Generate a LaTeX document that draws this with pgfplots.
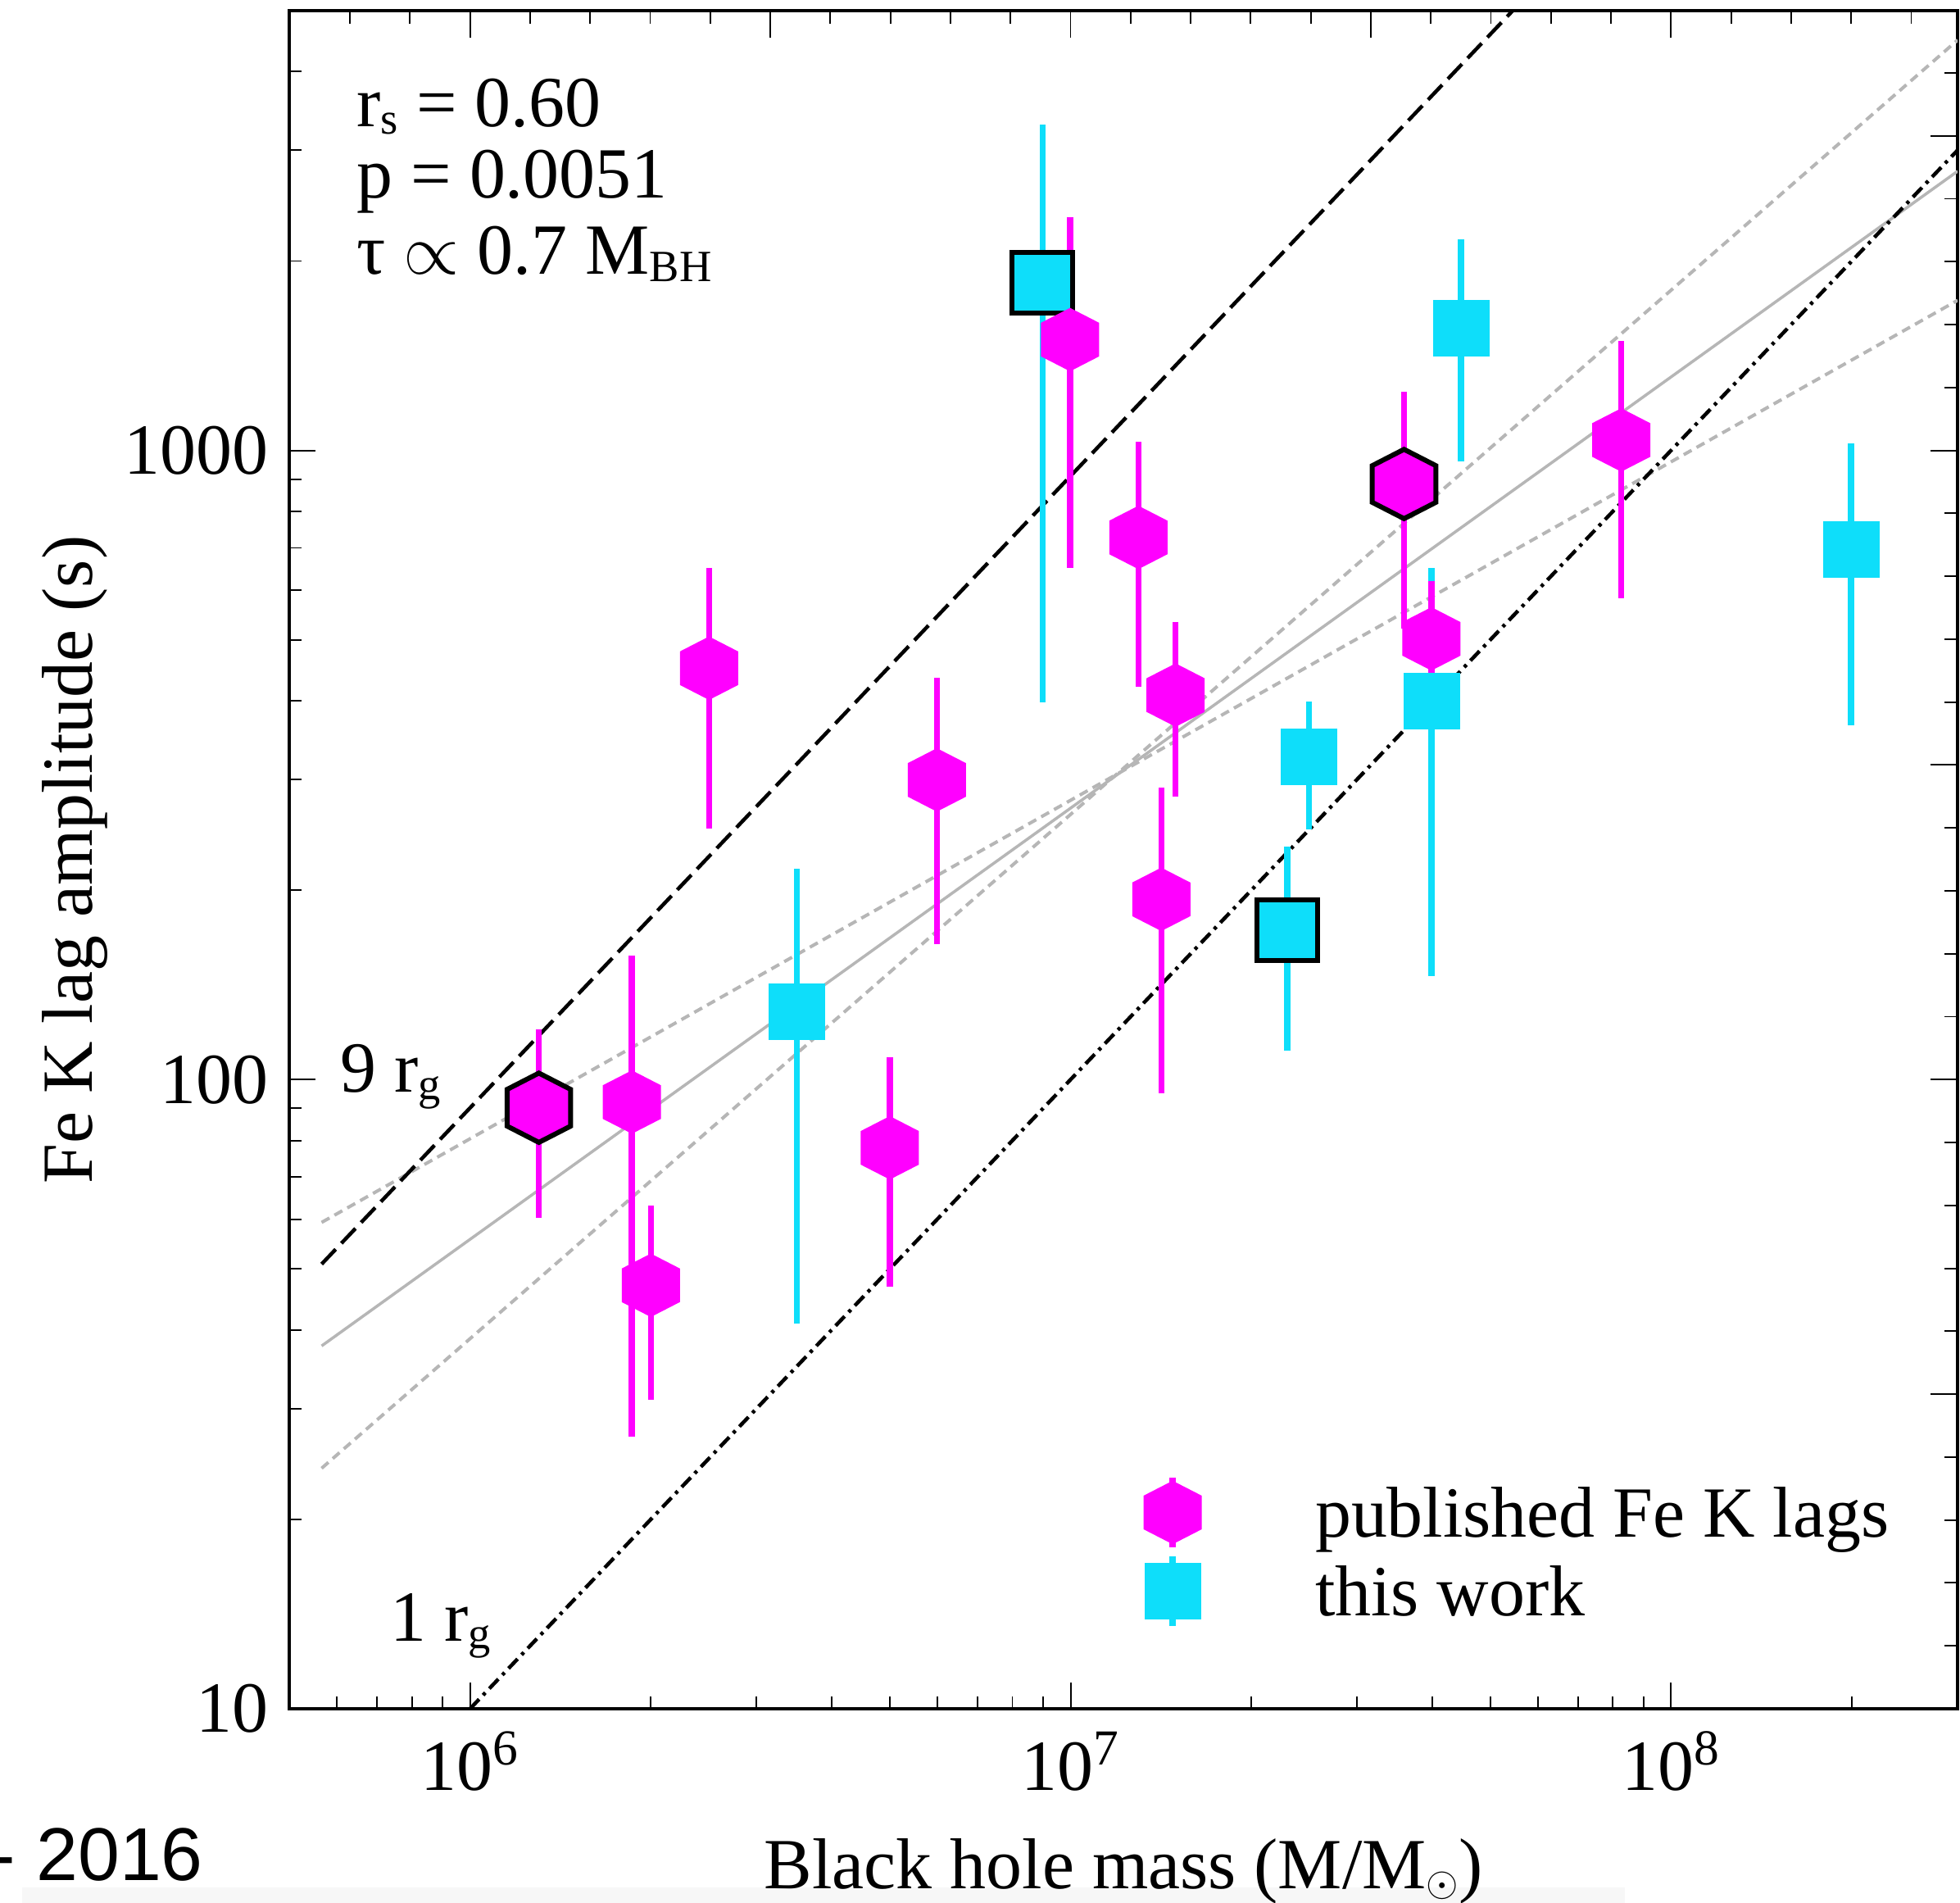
\documentclass[border=0pt]{standalone}
\usepackage{fontspec}
\setmainfont{Liberation Serif}
\newfontfamily\sansf{Liberation Sans}
\usepackage{pgfplots}
\usepackage{pgfplotstable}
\pgfplotsset{compat=1.18}

\definecolor{magentaPt}{RGB}{255,0,255}
\definecolor{cyanPt}{RGB}{14,222,250}
\definecolor{fitgray}{RGB}{182,182,182}

\newcommand\fsz{\fontsize{25}{30}\selectfont}
\newcommand\sub[1]{\raisebox{-0.09cm}{\fontsize{15.5}{16}\selectfont #1}}

% hexagon marks: filled only, and filled with an outline
\pgfdeclareplotmark{hexa}{%
  \pgfpathmoveto{\pgfqpoint{0pt}{1.09\pgfplotmarksize}}%
  \pgfpathlineto{\pgfqpoint{\pgfplotmarksize}{0.577\pgfplotmarksize}}%
  \pgfpathlineto{\pgfqpoint{\pgfplotmarksize}{-0.577\pgfplotmarksize}}%
  \pgfpathlineto{\pgfqpoint{0pt}{-1.09\pgfplotmarksize}}%
  \pgfpathlineto{\pgfqpoint{-\pgfplotmarksize}{-0.577\pgfplotmarksize}}%
  \pgfpathlineto{\pgfqpoint{-\pgfplotmarksize}{0.577\pgfplotmarksize}}%
  \pgfpathclose
  \pgfusepathqfill}
\pgfdeclareplotmark{hexa*}{%
  \pgfpathmoveto{\pgfqpoint{0pt}{1.09\pgfplotmarksize}}%
  \pgfpathlineto{\pgfqpoint{\pgfplotmarksize}{0.577\pgfplotmarksize}}%
  \pgfpathlineto{\pgfqpoint{\pgfplotmarksize}{-0.577\pgfplotmarksize}}%
  \pgfpathlineto{\pgfqpoint{0pt}{-1.09\pgfplotmarksize}}%
  \pgfpathlineto{\pgfqpoint{-\pgfplotmarksize}{-0.577\pgfplotmarksize}}%
  \pgfpathlineto{\pgfqpoint{-\pgfplotmarksize}{0.577\pgfplotmarksize}}%
  \pgfpathclose
  \pgfusepathqfillstroke}

% published Fe K lags: mass, lag, upper and lower ends of the error bar
\pgfplotstableread{
M       tau     hi      lo
1.86e6  92.1    157.3   27.1
2.00e6  47.1    63.0    31.0
2.50e6  450.6   651     250.4
5.00e6  77.9    108.5   46.9
5.99e6  299.4   434.6   164.4
9.98e6  1500    2347    651
1.297e7 727.2   1032.8  420.4
1.416e7 193.4   291.5   95.0
1.496e7 408.4   534.2   281.9
3.99e7  501.7   619.8   380.5
8.26e7  1038.8  1491    581.7
}\pubtab
\pgfplotstableread{
M       tau     hi      lo
1.302e6 90.2    120     60.2
3.592e7 884.3   1238.9  521.2
}\pubbox
% this work
\pgfplotstableread{
M       tau     hi      lo
3.50e6  128.2   216.1   40.9
2.495e7 325.7   399.5   249.5
3.99e7  399.5   651     145.9
4.47e7  1566.5  2163    960.9
1.993e8 696.6   1027    365.5
}\newtab
\pgfplotstableread{
M       tau     hi      lo
8.98e6  1847    3296    397.7
2.294e7 173.0   234.5   111.0
}\newbox

\begin{document}
\begin{tikzpicture}
\path[use as bounding box] (-3.53,-2.37) rectangle (20.39,20.85);
\fill[black!3] (-3.26,-2.37) rectangle (16.3,-2.18);
\node[anchor=base west, inner sep=0pt, font=\sansf\fontsize{26}{30}\selectfont] at (-3.65,-2.10) {- 2016};

\begin{axis}[
  at={(0,0)}, anchor=south west,
  scale only axis, width=20.36cm, height=20.72cm,
  xmode=log, ymode=log,
  xmin=5e5, xmax=3e8, ymin=10, ymax=5000,
  xtick={1e6,1e7,1e8},
  xticklabels={10\textsuperscript{6},10\textsuperscript{7},10\textsuperscript{8}},
  minor xtick={6e5,7e5,8e5,9e5,2e6,3e6,4e6,5e6,6e6,7e6,8e6,9e6,2e7,3e7,4e7,5e7,6e7,7e7,8e7,9e7,2e8},
  ytick={10,100,1000},
  yticklabels={10,100,1000},
  minor ytick={20,30,40,50,60,70,80,90,200,300,400,500,600,700,800,900,2000,3000,4000},
  xtick pos=left, ytick pos=left,
  major tick length=0.32cm, minor tick length=0.15cm,
  tick style={black, line width=0.55pt},
  axis line style={line width=1.15pt},
  tick label style={font=\fsz},
  xticklabel style={anchor=base, inner sep=0pt, yshift=-1.0cm},
  yticklabel style={anchor=east, inner sep=0pt, xshift=-0.25cm},
  label style={font=\fsz},
  xlabel={Black hole mass (M/M\sub{$\odot$})},
  ylabel={Fe K lag amplitude (s)},
  xlabel style={at={(axis description cs:0.5,-0.10618)}, anchor=base, inner sep=0pt},
  ylabel style={at={(axis description cs:-0.12844,0.5)}, anchor=center, inner sep=0pt},
  legend cell align=left,
  legend style={at={(0.5095,0.1390)}, anchor=north west,
    draw=none, fill=none, inner sep=0pt,
    nodes={inner sep=0pt, text depth=0pt},
    font=\fsz},
]
% best fit and its range
\addplot[forget plot, fitgray, line width=0.035cm] coordinates {(5.66e5,37.73) (3e8,2778)};
\addplot[forget plot, fitgray, line width=0.04cm, dash pattern=on 0.11cm off 0.07cm] coordinates {(5.66e5,24.11) (3e8,4489)};
\addplot[forget plot, fitgray, line width=0.04cm, dash pattern=on 0.11cm off 0.07cm] coordinates {(5.66e5,59.29) (3e8,1732)};
% 9 r_g and 1 r_g light-travel lags
\addplot[forget plot, black, line width=0.045cm, dash pattern=on 0.25cm off 0.1cm] coordinates {(5.66e5,50.9) (5.45e7,5000)};
\addplot[forget plot, black, line width=0.045cm, dash pattern=on 0.16cm off 0.07cm on 0.04cm off 0.07cm] coordinates {(1e6,10) (3e8,3000)};

% this work
\addplot[forget plot, only marks, mark=square*, mark size=0.34cm, color=cyanPt,
  mark options={fill=cyanPt, draw=cyanPt, line width=0.1pt},
  error bars/.cd, y dir=both, y explicit, error mark=none,
  error bar style={line width=0.075cm, cyanPt}]
  table[x=M, y=tau, y error plus expr=\thisrow{hi}-\thisrow{tau}, y error minus expr=\thisrow{tau}-\thisrow{lo}] {\newtab};
\addplot[forget plot, only marks, mark=square*, mark size=0.37cm, color=cyanPt,
  mark options={fill=cyanPt, draw=black, line width=0.06cm},
  error bars/.cd, y dir=both, y explicit, error mark=none,
  error bar style={line width=0.075cm, cyanPt}]
  table[x=M, y=tau, y error plus expr=\thisrow{hi}-\thisrow{tau}, y error minus expr=\thisrow{tau}-\thisrow{lo}] {\newbox};

% published lags
\addplot[forget plot, only marks, mark=hexa, mark size=0.355cm, color=magentaPt,
  mark options={fill=magentaPt},
  error bars/.cd, y dir=both, y explicit, error mark=none,
  error bar style={line width=0.075cm, magentaPt}]
  table[x=M, y=tau, y error plus expr=\thisrow{hi}-\thisrow{tau}, y error minus expr=\thisrow{tau}-\thisrow{lo}] {\pubtab};
\addplot[forget plot, only marks, mark=hexa*, mark size=0.388cm, color=magentaPt,
  mark options={fill=magentaPt, draw=black, line width=0.06cm},
  error bars/.cd, y dir=both, y explicit, error mark=none,
  error bar style={line width=0.075cm, magentaPt}]
  table[x=M, y=tau, y error plus expr=\thisrow{hi}-\thisrow{tau}, y error minus expr=\thisrow{tau}-\thisrow{lo}] {\pubbox};

\addlegendimage{legend image code/.code={%
  \path[draw=none, fill=none] (-0.4cm,-0.4785cm) rectangle (1.74cm,0.4785cm);
  \fill[magentaPt, draw=none] (0cm,0.387cm) -- (0.355cm,0.205cm) -- (0.355cm,-0.205cm) -- (0cm,-0.387cm)
     -- (-0.355cm,-0.205cm) -- (-0.355cm,0.205cm) -- cycle;
  \draw[magentaPt, line width=0.08cm] (0cm,0.36cm) -- (0cm,0.43cm);
  \draw[magentaPt, line width=0.08cm] (0cm,-0.36cm) -- (0cm,-0.43cm);
}}
\addlegendentry{published Fe K lags}
\addlegendimage{legend image code/.code={%
  \path[draw=none, fill=none] (-0.4cm,-0.4785cm) rectangle (1.74cm,0.4785cm);
  \fill[cyanPt, draw=none] (-0.345cm,-0.345cm) rectangle (0.345cm,0.345cm);
  \draw[cyanPt, line width=0.08cm] (0cm,0.32cm) -- (0cm,0.425cm);
  \draw[cyanPt, line width=0.08cm] (0cm,-0.32cm) -- (0cm,-0.425cm);
}}
\addlegendentry{this work}
\end{axis}

% top and right axes: ticks every 0.1 dex
\begin{axis}[
  at={(0,0)}, anchor=south west,
  scale only axis, width=20.36cm, height=20.72cm,
  xmin=5.69897, xmax=8.47712, ymin=1, ymax=3.69897,
  xtick={6,6.5,7,7.5,8}, minor xtick={5.8,5.9,...,8.45},
  ytick={1.5,2,2.5,3,3.5}, minor ytick={1.1,1.2,...,3.65},
  xticklabels={}, yticklabels={},
  xtick pos=right, ytick pos=right,
  major tick length=0.33cm, minor tick length=0.16cm,
  tick style={black, line width=0.55pt},
  axis line style={draw=none},
]
\end{axis}

\node[anchor=base west, inner sep=0pt, font=\fsz] at (0.82,19.30) {r\sub{s} = 0.60};
\node[anchor=base west, inner sep=0pt, font=\fsz] at (0.82,18.43) {p = 0.0051};
\node[anchor=base west, inner sep=0pt, font=\fsz] at (0.82,17.50) {τ $\propto$ 0.7 M\sub{BH}};
\node[anchor=base west, inner sep=0pt, font=\fsz] at (0.62,7.52) {9 r\sub{g}};
\node[anchor=base west, inner sep=0pt, font=\fsz] at (1.23,0.82) {1 r\sub{g}};
\end{tikzpicture}
\end{document}
